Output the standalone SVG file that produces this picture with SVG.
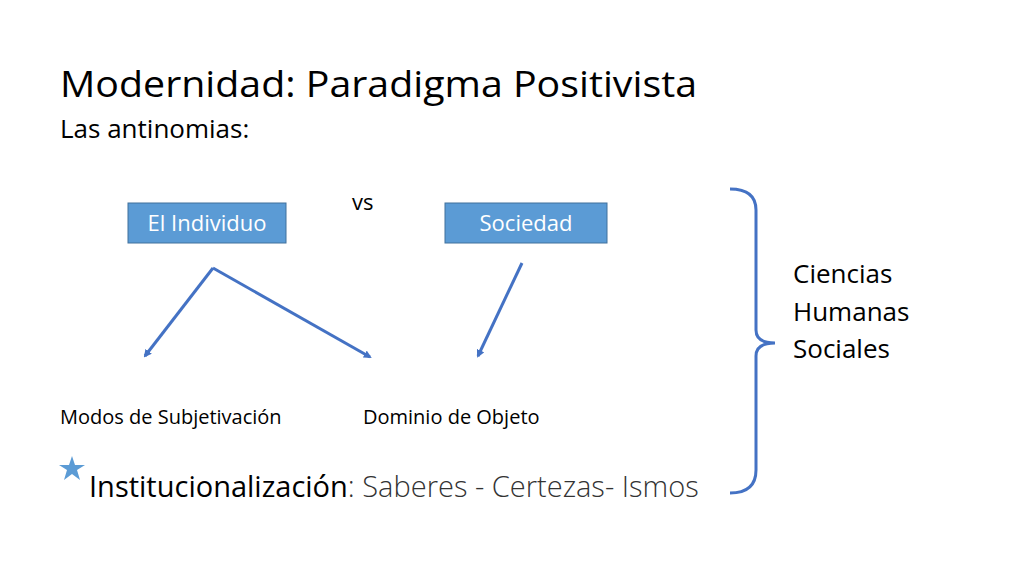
<svg xmlns="http://www.w3.org/2000/svg" width="1024" height="576" viewBox="0 0 1024 576">
<defs>
<style>
text{font-family:"Open Sans","Noto Sans","Liberation Sans",sans-serif;fill:#000}
.b{fill:#5b9bd5;stroke:#41719c;stroke-width:1}
.w{fill:#fff;font-size:22px}
.c{stroke:#4472c4;stroke-width:3;fill:none}
</style>
<marker id="a" markerWidth="8" markerHeight="8" refX="6" refY="4" orient="auto" markerUnits="userSpaceOnUse" viewBox="0 0 8 8"><path d="M0,0L8,4L0,8z" fill="#4472c4"/></marker>
</defs>
<rect width="1024" height="576" fill="#fff"/>
<text x="60" y="97" font-size="36" textLength="637" lengthAdjust="spacingAndGlyphs">Modernidad: Paradigma Positivista</text>
<text x="60" y="138" font-size="26">Las antinomias:</text>
<text x="352" y="210" font-size="22">vs</text>
<g id="individuo"><rect class="b" x="128" y="203" width="158" height="40"/><text class="w" x="207" y="231" text-anchor="middle">El Individuo</text></g>
<g id="sociedad"><rect class="b" x="445" y="203" width="162" height="40"/><text class="w" x="526" y="231" text-anchor="middle">Sociedad</text></g>
<g id="connectors">
<path class="c" d="M213,268L145,356" marker-end="url(#a)"/>
<path class="c" d="M213,268L370,357" marker-end="url(#a)"/>
<path class="c" d="M522,263L478,356" marker-end="url(#a)"/>
<path class="c" d="M730,189Q756,189 756,210L756,330Q756,343 775,343Q756,343 756,356L756,470Q756,493 730,493"/>
</g>
<g id="modos"><text x="60" y="424" font-size="20">Modos de Subjetivación</text></g>
<g id="dominio"><text x="363" y="424" font-size="20">Dominio de Objeto</text></g>
<path d="M72,456L75,465L85,465L77,470L80,480L72,474L64,480L67,470L59,465L69,465z" fill="#5b9bd5"/>
<text x="89" y="497" font-size="29">Institucionalización<tspan fill="#333" font-weight="300">: Saberes - Certezas- Ismos</tspan></text>
<g id="ciencias"><text font-size="26" fill="#333"><tspan x="793" y="283">Ciencias</tspan><tspan x="793" y="321">Humanas</tspan><tspan x="793" y="358">Sociales</tspan></text></g>
</svg>
